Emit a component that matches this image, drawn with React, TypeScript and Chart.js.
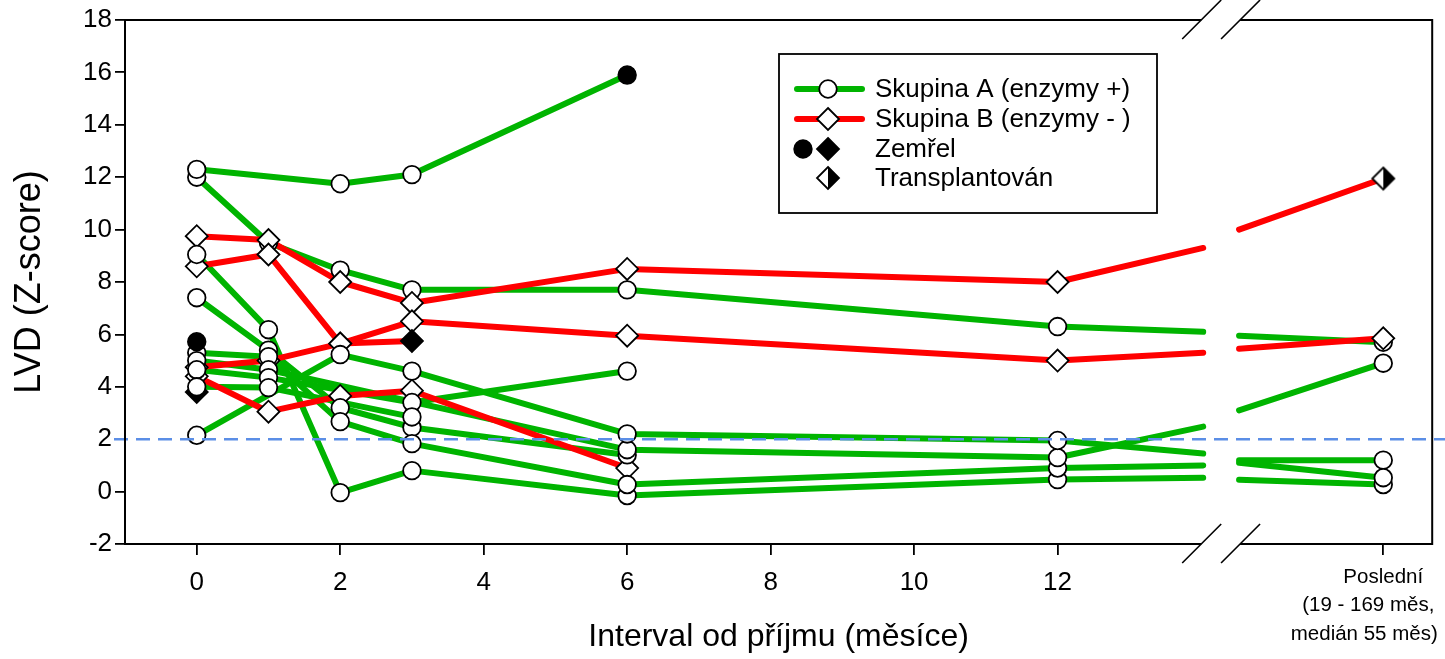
import React, { useEffect, useRef } from 'react';
import { Chart, registerables } from 'chart.js';

Chart.register(...registerables);

const FONT = '"Liberation Sans", Arial, Helvetica, sans-serif';

// x categories: months since admission; the last column ("Poslední") sits behind an axis break
const months = [0, 1, 2, 3, 6, 12];
const breakEdges = [14.03, 14.53];
const lastX = 16.54;
const xTickValues = [0, 2, 4, 6, 8, 10, 12];
const lastLabel = ['Poslední', '(19 - 169 měs,', 'medián 55 měs)'];
const yMin = -2;
const yMax = 18;
const yStep = 2;
const refValue = 2;

// Group A (enzymy +): values at months 0, 1, 2, 3, 6, 12
const a1 = [12.3, null, 11.75, 12.1, 15.9, null];
const a2 = [12.0, 9.5, 8.45, 7.7, 7.7, 6.3];
const a3 = [9.05, 6.18, -0.04, 0.8, -0.15, 0.46];
const a4 = [7.4, 5.4, 3.2, 2.45, 1.4, null];
const a5 = [5.3, 5.15, 2.67, 1.83, 0.27, 0.9];
const a6 = [5.0, 4.65, null, null, 1.6, 1.3];
const a7 = [4.65, 4.35, null, 3.4, 4.6, null];
const a8 = [4.0, 3.97, null, 2.85, null, null];
const a9 = [2.15, null, 5.23, 4.6, 2.2, 1.95];
const a10 = [5.72, null, null, null, null, null];
// [value at left break edge, value at right break edge, value at "Poslední"]
const a2Tail = [6.1, 5.95, 5.7];
const a3Tail = [0.53, 0.45, 0.27];
const a5Tail = [1.0, 1.2, 1.2];
const a6Tail = [2.48, 3.1, 4.9];
const a9Tail = [1.45, 1.1, 0.53];

// Group B (enzymy -)
const b1 = [9.75, 9.6, 8.0, 7.2, 8.5, 8.0];
const b2 = [8.6, 9.05, 5.65, 5.75, null, null];
const b3 = [4.75, 5.0, 5.65, 6.5, 5.95, 5.0];
const b4 = [4.4, 3.05, 3.65, 3.85, 0.9, null];
const b5 = [3.8, null, null, null, null, null];
const b1Tail = [9.3, 10.0, 11.95];
const b3Tail = [5.3, 5.45, 5.85];

const legendLabels = ['Skupina A (enzymy +)', 'Skupina B (enzymy - )', 'Zemřel', 'Transplantován'];

const GREEN = '#00b400';
const RED = '#ff0000';
const BLUE = '#5b8ee6';

type End = 'alive' | 'died' | 'transplant';
type Series = { group: 'A' | 'B'; vals: (number | null)[]; tail: number[] | null; end: End; under?: boolean };

const series: Series[] = [
  { group: 'A', vals: a1, tail: null, end: 'died' },
  { group: 'A', vals: a2, tail: a2Tail, end: 'alive', under: true },
  { group: 'A', vals: a3, tail: a3Tail, end: 'alive' },
  { group: 'A', vals: a4, tail: null, end: 'alive' },
  { group: 'A', vals: a5, tail: a5Tail, end: 'alive' },
  { group: 'A', vals: a6, tail: a6Tail, end: 'alive' },
  { group: 'A', vals: a7, tail: null, end: 'alive' },
  { group: 'A', vals: a8, tail: null, end: 'alive' },
  { group: 'A', vals: a9, tail: a9Tail, end: 'alive' },
  { group: 'A', vals: a10, tail: null, end: 'died' },
  { group: 'B', vals: b1, tail: b1Tail, end: 'transplant' },
  { group: 'B', vals: b2, tail: null, end: 'died' },
  { group: 'B', vals: b3, tail: b3Tail, end: 'alive' },
  { group: 'B', vals: b4, tail: null, end: 'alive' },
  { group: 'B', vals: b5, tail: null, end: 'died' },
];

const CIRCLE_R = 8.8;
const DIAMOND_R = 11;

function halfDiamond(r: number): HTMLCanvasElement {
  const c = document.createElement('canvas');
  const s = Math.ceil(2 * r + 4);
  c.width = s;
  c.height = s;
  const ctx = c.getContext('2d')!;
  const m = s / 2;
  ctx.beginPath();
  ctx.moveTo(m, m - r);
  ctx.lineTo(m - r, m);
  ctx.lineTo(m, m + r);
  ctx.closePath();
  ctx.fillStyle = '#fff';
  ctx.fill();
  ctx.beginPath();
  ctx.moveTo(m, m - r);
  ctx.lineTo(m + r, m);
  ctx.lineTo(m, m + r);
  ctx.closePath();
  ctx.fillStyle = '#000';
  ctx.fill();
  ctx.beginPath();
  ctx.moveTo(m, m - r);
  ctx.lineTo(m + r, m);
  ctx.lineTo(m, m + r);
  ctx.lineTo(m - r, m);
  ctx.closePath();
  ctx.lineWidth = 1.8;
  ctx.strokeStyle = '#000';
  ctx.stroke();
  return c;
}

function buildDatasets(transplantImg: HTMLCanvasElement) {
  const lines: any[] = [];
  const buckets: Record<string, { x: number; y: number }[]> = {
    circleUnder: [], circleOpen: [], circleBlack: [], diamondOpen: [], diamondBlack: [], transplant: [],
  };
  series.forEach((s) => {
    const pts: { x: number; y: number | null }[] = [];
    const measured: { x: number; y: number }[] = [];
    s.vals.forEach((v, i) => {
      if (v !== null) {
        pts.push({ x: months[i], y: v });
        measured.push({ x: months[i], y: v });
      }
    });
    if (s.tail) {
      pts.push({ x: breakEdges[0], y: s.tail[0] });
      pts.push({ x: (breakEdges[0] + breakEdges[1]) / 2, y: null });
      pts.push({ x: breakEdges[1], y: s.tail[1] });
      pts.push({ x: lastX, y: s.tail[2] });
      measured.push({ x: lastX, y: s.tail[2] });
    }
    if (pts.length > 1) {
      lines.push({
        type: 'line',
        data: pts,
        borderColor: s.group === 'A' ? GREEN : RED,
        borderWidth: 6,
        borderCapStyle: 'round',
        borderJoinStyle: 'round',
        pointRadius: 0,
        pointHoverRadius: 0,
        fill: false,
        tension: 0,
        spanGaps: false,
        order: s.group === 'A' ? 20 : 10,
      });
    }
    measured.forEach((p, idx) => {
      const isLast = idx === measured.length - 1;
      let key: string;
      if (s.group === 'A') {
        key = isLast && s.end === 'died' ? 'circleBlack' : s.under ? 'circleUnder' : 'circleOpen';
      } else {
        key = isLast && s.end === 'died' ? 'diamondBlack' : isLast && s.end === 'transplant' ? 'transplant' : 'diamondOpen';
      }
      buckets[key].push(p);
    });
  });
  const mk = (data: any[], style: any, r: number, fillCol: string, order: number) => ({
    type: 'scatter',
    data,
    showLine: false,
    pointStyle: style,
    pointRadius: r,
    pointHoverRadius: r,
    pointBorderWidth: 1.8,
    pointBorderColor: '#000',
    pointBackgroundColor: fillCol,
    order,
  });
  return [
    ...lines,
    mk(buckets.circleUnder, 'circle', CIRCLE_R, '#fff', 6),
    mk(buckets.diamondOpen, 'rectRot', DIAMOND_R, '#fff', 5),
    mk(buckets.diamondBlack, 'rectRot', DIAMOND_R, '#000', 4),
    mk(buckets.transplant, transplantImg, DIAMOND_R, '#fff', 3),
    mk(buckets.circleOpen, 'circle', CIRCLE_R, '#fff', 2),
    mk(buckets.circleBlack, 'circle', CIRCLE_R, '#000', 1),
  ];
}

const framePlugin = {
  id: 'frame',
  afterDraw(chart: any) {
    const { ctx, chartArea: ca, scales } = chart;
    const xs = scales.x;
    const ys = scales.y;
    const b0 = xs.getPixelForValue(breakEdges[0]) - 2;
    const b1p = xs.getPixelForValue(breakEdges[1]) + 1;
    ctx.save();
    // dashed reference line
    const yRef = ys.getPixelForValue(refValue);
    ctx.strokeStyle = BLUE;
    ctx.lineWidth = 2.5;
    ctx.setLineDash([14, 8]);
    ctx.beginPath();
    ctx.moveTo(ca.left - 11, yRef);
    ctx.lineTo(chart.width, yRef);
    ctx.stroke();
    ctx.setLineDash([]);
    // frame with axis breaks
    ctx.strokeStyle = '#000';
    ctx.lineWidth = 2;
    ctx.lineCap = 'butt';
    ctx.beginPath();
    ctx.moveTo(ca.left, ca.top);
    ctx.lineTo(ca.left, ca.bottom);
    ctx.moveTo(ca.right, ca.top);
    ctx.lineTo(ca.right, ca.bottom);
    [ca.top, ca.bottom].forEach((y: number) => {
      ctx.moveTo(ca.left - 1, y);
      ctx.lineTo(b0, y);
      ctx.moveTo(b1p, y);
      ctx.lineTo(ca.right + 1, y);
    });
    ctx.stroke();
    ctx.lineWidth = 1.6;
    ctx.beginPath();
    [ca.top, ca.bottom].forEach((y: number) => {
      [b0, b1p].forEach((x: number) => {
        ctx.moveTo(x - 19, y + 19);
        ctx.lineTo(x + 20, y - 20);
      });
    });
    ctx.stroke();
    // label of the last column (below its tick)
    const lx = xs.getPixelForValue(lastX);
    ctx.fillStyle = '#000';
    ctx.font = `20.5px ${FONT}`;
    ctx.textAlign = 'center';
    ctx.textBaseline = 'middle';
    const lineOffsets = [0, -15, -19];
    lastLabel.forEach((t, i) => ctx.fillText(t, lx + lineOffsets[i], ca.bottom + 33 + i * 28.5));
    // legend
    const L = { x: 779, y: 54, w: 378, h: 159 };
    ctx.lineWidth = 1.8;
    ctx.strokeRect(L.x, L.y, L.w, L.h);
    const rows = [89, 119, 149, 178];
    const mx = 828;
    const circle = (x: number, y: number, fill: string) => {
      ctx.beginPath();
      ctx.arc(x, y, CIRCLE_R, 0, Math.PI * 2);
      ctx.fillStyle = fill;
      ctx.fill();
      ctx.lineWidth = 1.8;
      ctx.strokeStyle = '#000';
      ctx.stroke();
    };
    const diamond = (x: number, y: number, fill: string) => {
      ctx.beginPath();
      ctx.moveTo(x, y - DIAMOND_R);
      ctx.lineTo(x + DIAMOND_R, y);
      ctx.lineTo(x, y + DIAMOND_R);
      ctx.lineTo(x - DIAMOND_R, y);
      ctx.closePath();
      ctx.fillStyle = fill;
      ctx.fill();
      ctx.lineWidth = 1.8;
      ctx.strokeStyle = '#000';
      ctx.stroke();
    };
    const seg = (y: number, col: string) => {
      ctx.beginPath();
      ctx.moveTo(797, y);
      ctx.lineTo(862, y);
      ctx.lineWidth = 6;
      ctx.lineCap = 'round';
      ctx.strokeStyle = col;
      ctx.stroke();
      ctx.lineCap = 'butt';
    };
    seg(rows[0], GREEN);
    circle(mx, rows[0], '#fff');
    seg(rows[1], RED);
    diamond(mx, rows[1], '#fff');
    circle(803, rows[2], '#000');
    diamond(mx, rows[2], '#000');
    const img = chart.$transplantImg as HTMLCanvasElement;
    ctx.drawImage(img, mx - img.width / 2, rows[3] - img.height / 2);
    ctx.fillStyle = '#000';
    ctx.font = `26px ${FONT}`;
    ctx.textAlign = 'left';
    ctx.textBaseline = 'middle';
    legendLabels.forEach((t, i) => ctx.fillText(t, 875, rows[i] + 1));
    ctx.restore();
  },
};

export default function App() {
  const ref = useRef<HTMLCanvasElement>(null);
  useEffect(() => {
    const img = halfDiamond(DIAMOND_R);
    const chart: any = new Chart(ref.current!, {
      type: 'line',
      data: { datasets: buildDatasets(img) as any },
      options: {
        responsive: false,
        animation: false,
        devicePixelRatio: 1,
        layout: { padding: { left: 0, right: 8, top: 20, bottom: 0 } },
        plugins: { legend: { display: false }, tooltip: { enabled: false } },
        events: [],
        scales: {
          x: {
            type: 'linear',
            min: -1,
            max: -1 + 1312 / 72,
            afterBuildTicks: (s: any) => {
              s.ticks = [...xTickValues, lastX].map((v) => ({ value: v }));
            },
            afterFit: (s: any) => {
              s.height = 115;
              s.paddingLeft = 0;
              s.paddingRight = 0;
            },
            ticks: {
              autoSkip: false,
              maxRotation: 0,
              minRotation: 0,
              padding: 8,
              color: '#000',
              font: { family: FONT, size: 26, lineHeight: 1.5 },
              callback: (v: any) => (v === lastX ? '' : String(v)),
            },
            grid: { display: true, drawOnChartArea: false, drawTicks: true, tickLength: 11, color: '#000', lineWidth: 1.8 },
            border: { display: false },
            title: {
              display: true,
              text: 'Interval od příjmu (měsíce)',
              color: '#000',
              font: { family: FONT, size: 32 },
              padding: { top: 0, bottom: 3 },
            },
          },
          y: {
            type: 'linear',
            min: yMin,
            max: yMax,
            afterFit: (s: any) => {
              s.width = 125;
              s.paddingTop = 0;
              s.paddingBottom = 0;
            },
            ticks: {
              stepSize: yStep,
              padding: 3,
              color: '#000',
              font: { family: FONT, size: 26 },
            },
            grid: { display: true, drawOnChartArea: false, drawTicks: true, tickLength: 10, color: '#000', lineWidth: 1.8 },
            border: { display: false },
            title: {
              display: true,
              text: 'LVD (Z-score)',
              color: '#000',
              font: { family: FONT, size: 36 },
              padding: { top: 8, bottom: 0 },
            },
          },
        },
      },
      plugins: [
        {
          id: 'img',
          beforeInit(c: any) {
            c.$transplantImg = img;
          },
        },
        framePlugin,
      ],
    } as any);
    return () => chart.destroy();
  }, []);
  return (
    <div style={{ position: 'absolute', left: 0, top: 0, width: 1445, height: 659, background: '#fff' }}>
      <canvas ref={ref} width={1445} height={659} style={{ display: 'block', width: 1445, height: 659 }} />
    </div>
  );
}
